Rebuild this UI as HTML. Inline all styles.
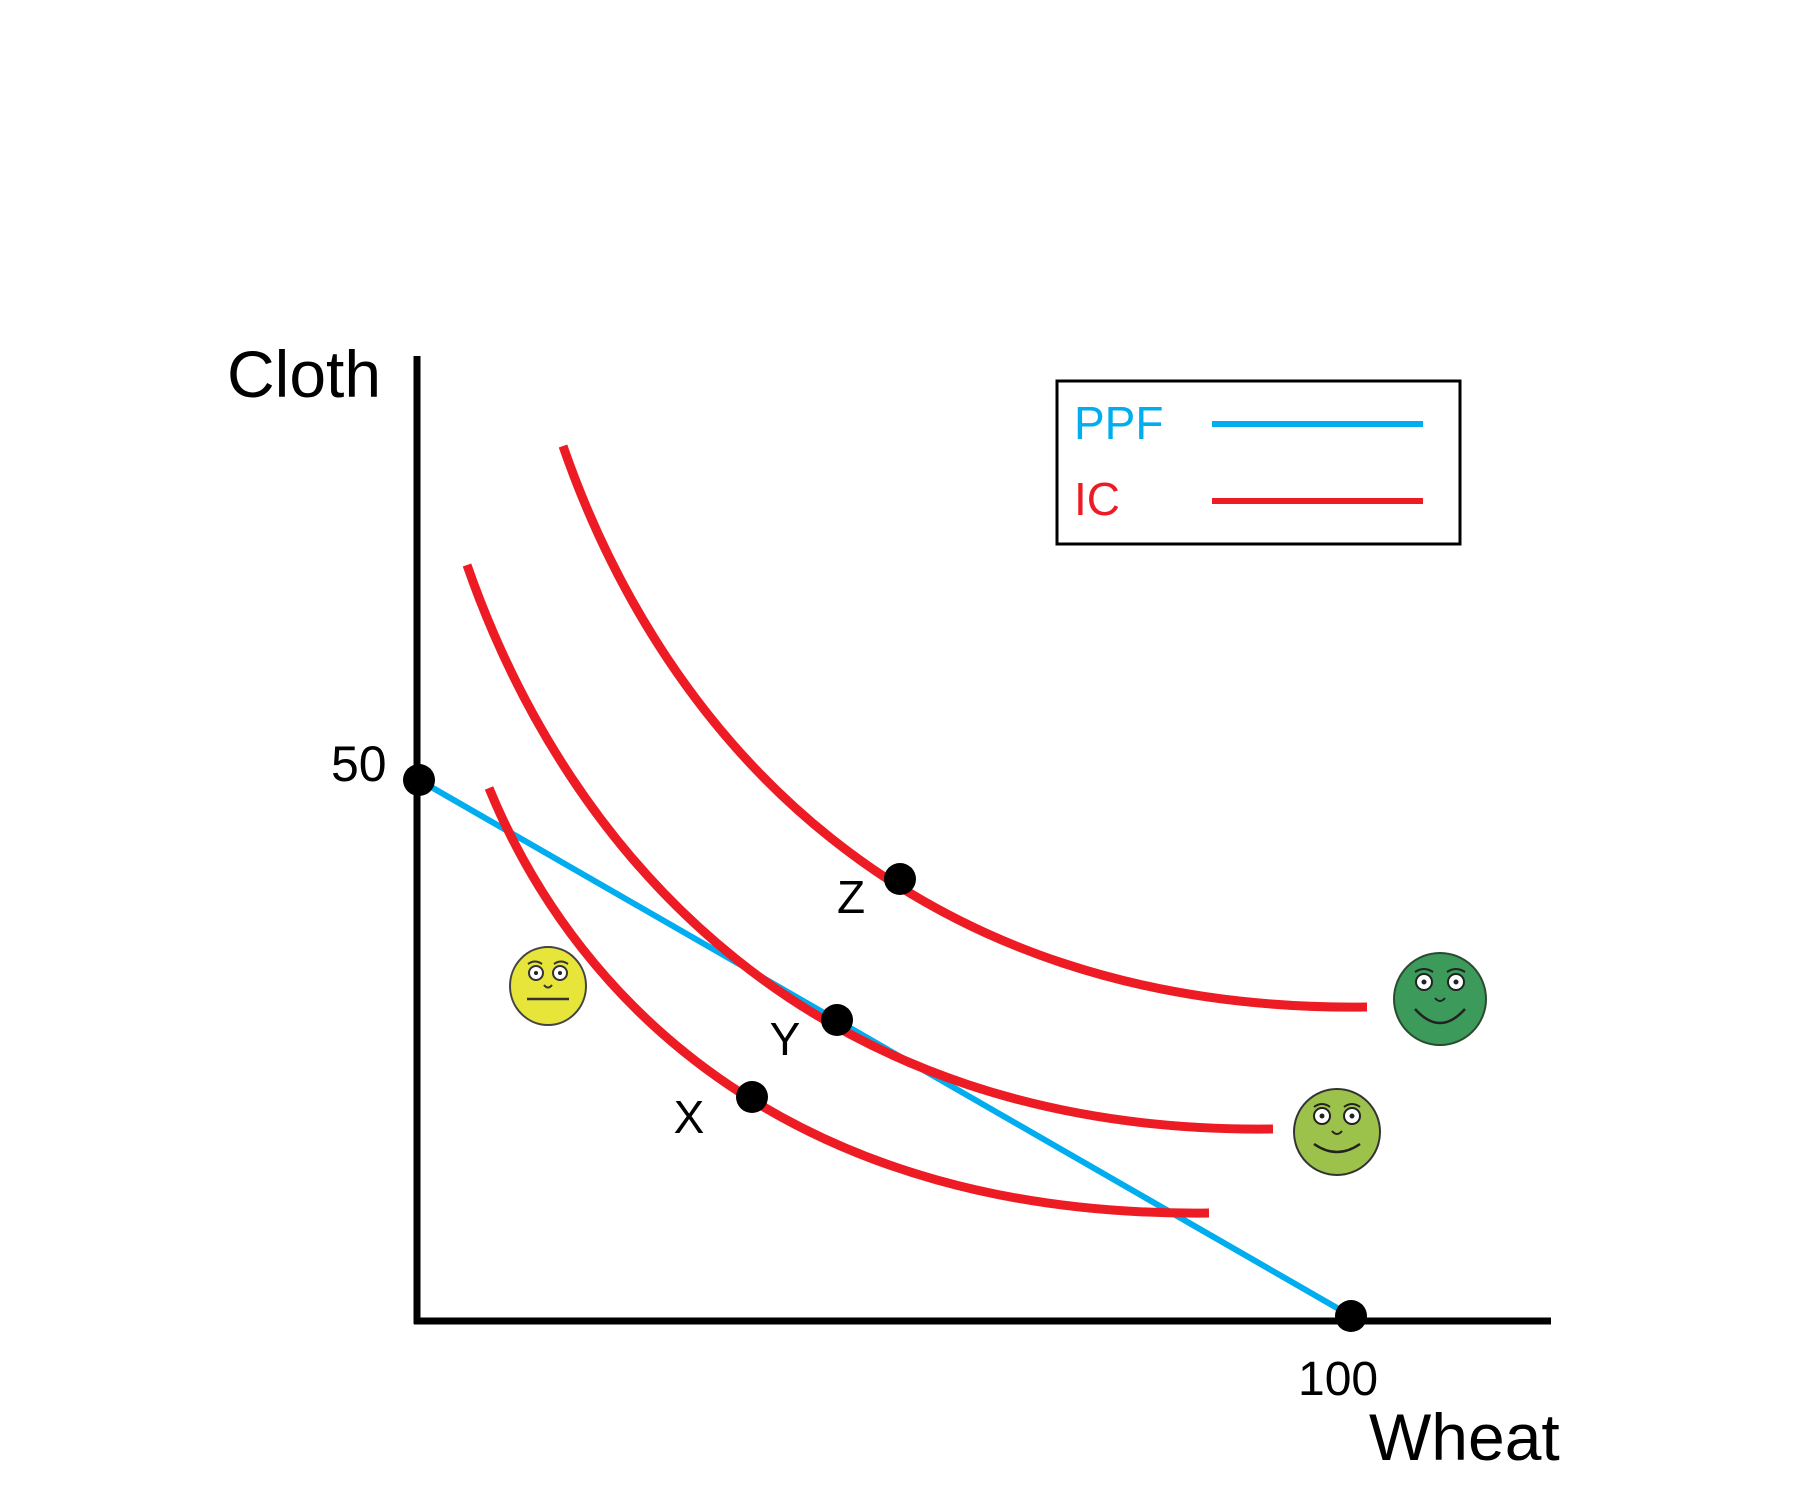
<!DOCTYPE html>
<html><head><meta charset="utf-8"><style>
html,body{margin:0;padding:0;background:#fff;}
svg{display:block;}
text{font-family:"Liberation Sans",sans-serif;}
</style></head><body>
<svg width="1801" height="1501" viewBox="0 0 1801 1501" xmlns="http://www.w3.org/2000/svg">
<rect width="1801" height="1501" fill="#fff"/>
<line x1="417" y1="356" x2="417" y2="1324" stroke="#000" stroke-width="7"/>
<line x1="414" y1="1321" x2="1551" y2="1321" stroke="#000" stroke-width="7"/>
<line x1="419" y1="780" x2="1351" y2="1316" stroke="#00AEEF" stroke-width="6"/>
<g fill="none" stroke="#ED1C24" stroke-width="9">
<path d="M489,788 C580,1010 800,1218 1209,1213"/>
<path d="M467,565 C569,858 814,1135 1273,1129"/>
<path d="M563,446 C664,738 909,1013 1367,1007"/>
</g>
<g fill="#000">
<circle cx="419" cy="780" r="16"/>
<circle cx="1351" cy="1316" r="16"/>
<circle cx="752" cy="1097" r="16"/>
<circle cx="837" cy="1020" r="16"/>
<circle cx="900" cy="879" r="16"/>
</g>
<text x="227" y="397" font-size="66">Cloth</text>
<text x="1369" y="1460" font-size="66">Wheat</text>
<text x="331" y="781" font-size="50">50</text>
<text x="1298" y="1395" font-size="48">100</text>
<text x="689" y="1133" font-size="46" text-anchor="middle">X</text>
<text x="785" y="1055" font-size="46" text-anchor="middle">Y</text>
<text x="851" y="913" font-size="46" text-anchor="middle">Z</text>
<rect x="1057" y="381" width="403" height="163" fill="none" stroke="#000" stroke-width="3"/>
<text x="1074" y="439" font-size="46" fill="#00AEEF">PPF</text>
<text x="1074" y="515" font-size="46" fill="#ED1C24">IC</text>
<line x1="1212" y1="424" x2="1423" y2="424" stroke="#00AEEF" stroke-width="6"/>
<line x1="1212" y1="501" x2="1423" y2="501" stroke="#ED1C24" stroke-width="6"/>
<g transform="translate(548,986)">
<ellipse cx="0" cy="0" rx="38" ry="39" fill="#E8E53A" stroke="#444" stroke-width="2"/>
<circle cx="-12" cy="-13" r="7" fill="#fff" stroke="#333" stroke-width="2"/><circle cx="-12" cy="-13" r="2" fill="#222"/>
<circle cx="12" cy="-13" r="7" fill="#fff" stroke="#333" stroke-width="2"/><circle cx="12" cy="-13" r="2" fill="#222"/>
<path d="M-20,-22 Q-13,-27 -6,-22 M6,-22 Q13,-27 20,-22" fill="none" stroke="#333" stroke-width="2"/>
<path d="M-4,-1 Q0,4 4,-1" fill="none" stroke="#333" stroke-width="2"/>
<line x1="-21" y1="13" x2="21" y2="13" stroke="#333" stroke-width="2.5"/>
</g>
<g transform="translate(1440,999)">
<circle r="46" fill="#3C9A5A" stroke="#2a4a30" stroke-width="2"/>
<circle cx="-16" cy="-17" r="8" fill="#fff" stroke="#222" stroke-width="2"/><circle cx="-16" cy="-17" r="2.5" fill="#222"/>
<circle cx="16" cy="-17" r="8" fill="#fff" stroke="#222" stroke-width="2"/><circle cx="16" cy="-17" r="2.5" fill="#222"/>
<path d="M-25,-27 Q-16,-33 -7,-27 M7,-27 Q16,-33 25,-27" fill="none" stroke="#222" stroke-width="2"/>
<path d="M-5,-1 Q0,5 5,-1" fill="none" stroke="#222" stroke-width="2"/>
<path d="M-25,10 Q0,38 25,10" fill="none" stroke="#222" stroke-width="2.5"/>
</g>
<g transform="translate(1337,1132)">
<circle r="43" fill="#9CC24C" stroke="#333" stroke-width="2"/>
<circle cx="-15" cy="-16" r="8" fill="#fff" stroke="#222" stroke-width="2"/><circle cx="-15" cy="-16" r="2.5" fill="#222"/>
<circle cx="15" cy="-16" r="8" fill="#fff" stroke="#222" stroke-width="2"/><circle cx="15" cy="-16" r="2.5" fill="#222"/>
<path d="M-23,-25 Q-15,-31 -7,-25 M7,-25 Q15,-31 23,-25" fill="none" stroke="#222" stroke-width="2"/>
<path d="M-5,-1 Q0,5 5,-1" fill="none" stroke="#222" stroke-width="2"/>
<path d="M-23,12 Q0,28 23,12" fill="none" stroke="#222" stroke-width="2.5"/>
</g>
</svg>
</body></html>
